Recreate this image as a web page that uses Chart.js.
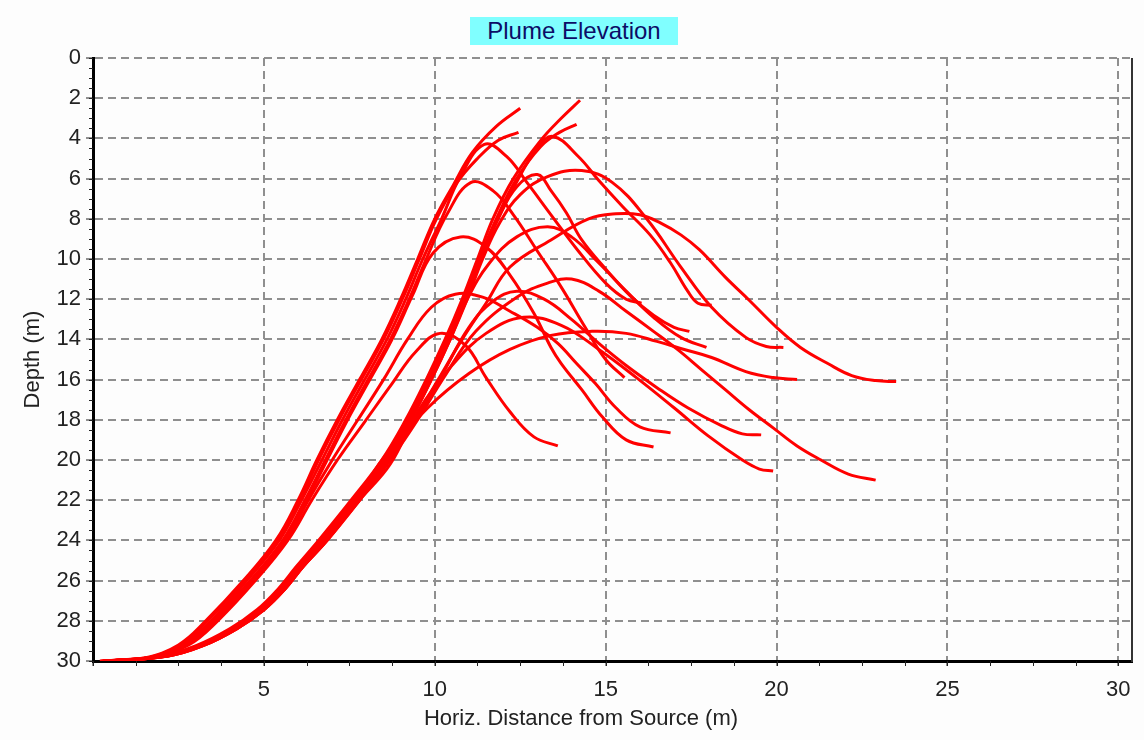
<!DOCTYPE html>
<html>
<head>
<meta charset="utf-8">
<script src="https://cdn.jsdelivr.net/npm/chart.js@4.4.0/dist/chart.umd.min.js"></script>
<style>
  html, body { margin: 0; padding: 0; background: #fdfdfd; }
  #wrap { position: relative; width: 1144px; height: 740px; }
  #plotTitle {
    position: absolute; left: 470px; top: 17px; width: 208px; height: 28px;
    background: #80ffff; color: #0c0c66; text-align: center; line-height: 28px;
    font: 24px "Liberation Sans", Arial, sans-serif;
  }
  #xTitle {
    position: absolute; left: 381px; width: 400px; top: 705px; text-align: center;
    color: #222; font: 22px "Liberation Sans", Arial, sans-serif;
  }
</style>
</head>
<body>
<div id="wrap">
  <canvas id="plume" width="1144" height="740"></canvas>
  <div id="plotTitle">Plume Elevation</div>
  <div id="xTitle">Horiz. Distance from Source (m)</div>
</div>
<script>
// axis ticks
const xTicks = [0, 5, 10, 15, 20, 25, 30];
const yTicks = [0, 2, 4, 6, 8, 10, 12, 14, 16, 18, 20, 22, 24, 26, 28, 30];

// left (steeper) family of trajectories: horizontal distance / depth
const distL1 = [0.2,1.5,2.5,3.3,4.4,5.35,6.0,6.55,7.15,7.8,8.45,9.0,9.5,10.0,10.55,11.1,11.8,12.5];
const depthL1 = [30,29.85,29.2,28.0,26.0,24.0,22.0,20.0,18.0,16.0,14.0,12.0,10.0,8.0,6.3,4.7,3.4,2.5];
const distL2 = [0.25,1.55,2.55,3.35,4.45,5.4,6.05,6.6,7.2,7.85,8.5,9.05,9.55,10.05,10.65,11.25,11.85,12.45];
const depthL2 = [30,29.85,29.2,28.0,26.0,24.0,22.0,20.0,18.0,16.0,14.0,12.0,10.0,8.0,6.2,5.0,4.1,3.7];
const distL3 = [0.3,1.6,2.6,3.45,4.5,5.45,6.1,6.7,7.3,7.95,8.6,9.15,9.65,10.2,10.75,11.45,12.1,12.7,13.4,14.2,15.0,15.6,16.05];
const depthL3 = [30,29.85,29.2,28.0,26.0,24.0,22.0,20.0,18.0,16.0,14.0,12.0,10.0,8.0,5.9,4.3,4.9,6.2,7.8,9.6,11.2,12.0,12.2];
const distL4 = [0.3,1.6,2.65,3.5,4.6,5.55,6.2,6.8,7.4,8.05,8.7,9.25,9.75,10.35,11.05,11.7,12.3,13.0,13.7,14.4,15.0,15.55];
const depthL4 = [30,29.85,29.2,28.0,26.0,24.0,22.0,20.0,18.0,16.0,14.0,12.0,10.0,7.8,6.2,6.6,7.8,9.6,11.4,13.4,15.0,15.9];
const distL5 = [0.3,1.65,2.7,3.55,4.65,5.6,6.25,6.85,7.45,8.1,8.75,9.35,9.95,10.75,11.5,12.2,12.9,13.4,13.7,14.3,14.9,15.6,16.4];
const depthL5 = [30,29.85,29.2,28.0,26.0,24.0,22.0,20.0,18.0,16.0,14.0,11.8,9.7,8.9,9.4,10.8,12.7,14.4,15.2,16.5,17.85,19.0,19.35];
const distL6 = [0.35,1.7,2.75,3.6,4.7,5.65,6.3,7.0,7.75,8.5,9.2,9.9,10.6,11.4,12.2,13.0,13.6,14.15,14.7,15.3,16.0,16.9];
const depthL6 = [30,29.85,29.2,28.0,26.0,24.0,22.0,20.0,18.0,16.0,14.0,12.4,11.75,11.9,12.6,13.4,14.2,15.2,16.2,17.4,18.35,18.65];
const distL7 = [0.35,1.7,2.8,3.65,4.75,5.7,6.4,7.15,7.95,8.75,9.45,10.15,10.9,11.5,12.2,12.9,13.6];
const depthL7 = [30,29.85,29.2,28.0,26.0,24.0,22.0,20.0,18.1,16.2,14.6,13.7,14.3,15.9,17.6,18.85,19.3];

// right (flatter) family
const distR1 = [0.4,2.0,3.0,4.0,4.8,5.4,5.95,6.6,7.55,8.45,9.15,9.75,10.3,10.8,11.25,11.7,12.3,13.1,13.7,14.25];
const depthR1 = [30,29.75,29.25,28.4,27.45,26.45,25.3,24.0,22.0,20.0,18.0,16.0,14.0,12.0,10.0,8.0,6.0,4.1,3.0,2.1];
const distR2 = [0.45,2.05,3.05,4.05,4.85,5.45,6.0,6.65,7.6,8.5,9.2,9.8,10.35,10.85,11.3,11.8,12.4,13.1,13.65,14.15];
const depthR2 = [30,29.75,29.25,28.4,27.45,26.45,25.3,24.0,22.0,20.0,18.0,16.0,14.0,12.0,10.0,8.0,6.0,4.4,3.7,3.3];
const distR3 = [0.5,2.1,3.1,4.1,4.9,5.5,6.05,6.7,7.65,8.55,9.25,9.85,10.4,10.9,11.35,11.85,12.45,12.95,13.45,14.2,14.8,15.5,16.3,16.9,17.4,17.7,18.1];
const depthR3 = [30,29.75,29.25,28.4,27.45,26.45,25.3,24.0,22.0,20.0,18.0,16.0,14.0,12.0,10.0,8.0,6.0,4.6,3.9,4.9,6.1,7.4,8.8,10.2,11.6,12.2,12.3];
const distR4 = [0.5,2.1,3.1,4.1,4.9,5.5,6.05,6.7,7.7,8.6,9.3,9.9,10.45,10.95,11.4,11.9,12.5,13.3,14.3,15.2,16.2,17.2,18.1,19.1,19.7,20.2];
const depthR4 = [30,29.75,29.25,28.4,27.45,26.45,25.3,24.0,22.0,20.0,18.0,16.0,14.0,12.0,10.0,8.2,6.8,5.9,5.6,6.2,8.0,10.4,12.4,13.9,14.35,14.4];
const distR5 = [0.55,2.15,3.15,4.15,4.95,5.55,6.1,6.75,7.75,8.65,9.4,10.1,10.8,11.5,12.2,13.4,14.5,15.3,16.0,16.6,17.2,17.75,18.5,19.2,20.0,20.7,21.5,22.2,22.9,23.5];
const depthR5 = [30,29.75,29.25,28.4,27.45,26.45,25.3,24.0,22.0,20.0,18.0,16.0,14.0,12.2,10.4,9.05,8.0,7.75,7.8,8.2,8.8,9.55,10.9,12.05,13.4,14.4,15.2,15.8,16.05,16.1];
const distR6 = [0.5,2.1,3.1,4.1,4.9,5.5,6.05,6.7,7.65,8.55,9.25,9.85,10.4,10.9,11.35,11.85,12.4,13.0,13.4,13.85,14.3,15.0,15.7,16.4,17.0,17.45];
const depthR6 = [30,29.75,29.25,28.4,27.45,26.45,25.3,24.0,22.0,20.0,18.0,16.0,14.0,12.0,10.0,8.0,6.4,5.8,6.6,7.7,9.05,10.5,11.8,12.8,13.4,13.6];
const distR7 = [0.55,2.15,3.15,4.15,4.95,5.55,6.1,6.8,7.75,8.65,9.45,10.2,11.0,11.7,12.4,13.2,14.0,14.8,15.6,16.5,17.4,18.4,19.0,19.55];
const depthR7 = [30,29.75,29.25,28.4,27.45,26.45,25.3,24.0,22.0,20.0,18.0,15.8,13.4,12.1,11.6,12.0,13.0,14.2,15.3,16.4,17.4,18.3,18.7,18.75];
const distR8 = [0.6,2.2,3.2,4.2,5.0,5.6,6.15,6.85,7.8,8.7,9.5,10.3,11.2,12.4,13.3,14.0,14.8,15.6,16.4,17.1,17.8,18.5,19.2,19.9,20.6,21.3,22.1,22.9];
const depthR8 = [30,29.75,29.25,28.4,27.45,26.45,25.3,24.0,22.0,20.0,18.0,15.8,13.6,11.9,11.2,11.0,11.6,12.6,13.6,14.5,15.5,16.5,17.5,18.4,19.3,20.0,20.7,21.0];
const distR9 = [0.6,2.2,3.2,4.2,5.0,5.6,6.15,6.85,7.8,8.7,9.5,10.5,11.5,12.6,13.7,14.8,15.9,17.0,18.0,19.0,19.5,19.9];
const depthR9 = [30,29.75,29.25,28.4,27.45,26.45,25.3,24.0,22.0,20.2,17.6,15.3,13.7,12.9,13.3,14.5,15.9,17.4,18.8,20.0,20.45,20.55];
const distR10 = [0.6,2.2,3.2,4.2,5.0,5.6,6.15,6.85,7.6,8.5,9.8,11.0,12.2,13.4,14.6,15.6,16.5,17.3,18.1,19.1,19.9,20.6];
const depthR10 = [30,29.75,29.25,28.4,27.45,26.45,25.3,24.0,22.3,19.9,17.4,15.7,14.5,13.8,13.6,13.7,14.1,14.5,14.9,15.6,15.9,16.0];
const distR11 = [0.55,2.15,3.15,4.15,4.95,5.55,6.1,6.75,7.7,8.6,9.3,9.9,10.45,10.95,11.6,12.4,13.3,14.0,14.8,15.6,16.4,17.2,17.95];
const depthR11 = [30,29.75,29.25,28.4,27.45,26.45,25.3,24.0,22.0,20.0,18.0,16.0,14.0,12.0,10.2,8.9,8.4,8.9,10.2,11.6,12.9,13.9,14.4];

const trajectories = [
  [distL1, depthL1], [distL2, depthL2], [distL3, depthL3], [distL4, depthL4],
  [distL5, depthL5], [distL6, depthL6], [distL7, depthL7],
  [distR1, depthR1], [distR2, depthR2], [distR3, depthR3], [distR4, depthR4],
  [distR5, depthR5], [distR6, depthR6], [distR7, depthR7], [distR8, depthR8],
  [distR9, depthR9], [distR10, depthR10], [distR11, depthR11]
];

const datasets = trajectories.map(([xs, ys]) => ({
  data: xs.map((x, i) => ({ x: x, y: ys[i] })),
  showLine: true,
  borderColor: "#ff0000",
  borderWidth: 3,
  pointRadius: 0,
  tension: 0.4,
  fill: false
}));

// small ticks and the right frame line
const frame = {
  id: "frame",
  afterDraw(chart) {
    const ctx = chart.ctx;
    const a = chart.chartArea;
    const xs = chart.scales.x, ys = chart.scales.y;
    ctx.save();
    ctx.strokeStyle = "#222";
    ctx.lineWidth = 1;
    ctx.beginPath();
    for (let v = 0; v <= 30.01; v += 1.25) {
      const px = Math.round(xs.getPixelForValue(v)) + 0.5;
      ctx.moveTo(px, a.bottom);
      ctx.lineTo(px, a.bottom + 5);
    }
    for (let v = 0; v <= 30.01; v += 0.5) {
      const py = Math.round(ys.getPixelForValue(v)) + 0.5;
      ctx.moveTo(a.left - 4, py);
      ctx.lineTo(a.left, py);
    }
    ctx.stroke();
    ctx.strokeStyle = "#333";
    ctx.lineWidth = 2;
    ctx.beginPath();
    ctx.moveTo(a.right, a.top);
    ctx.lineTo(a.right, a.bottom + 1);
    ctx.stroke();
    ctx.restore();
  }
};

const tickFont = { family: "'Liberation Sans', Arial, sans-serif", size: 22 };

new Chart(document.getElementById("plume"), {
  type: "scatter",
  data: { datasets: datasets },
  plugins: [frame],
  options: {
    responsive: false,
    animation: false,
    devicePixelRatio: 1,
    layout: { padding: { top: 58, right: 12, left: 0, bottom: 0 } },
    plugins: { legend: { display: false }, tooltip: { enabled: false } },
    scales: {
      x: {
        type: "linear",
        min: 0,
        max: 30.4,
        afterBuildTicks: (s) => { s.ticks = xTicks.map(v => ({ value: v })); },
        afterFit: (s) => { s.height = 79; },
        ticks: {
          color: "#222",
          font: tickFont,
          padding: 11,
          maxRotation: 0,
          callback: (v) => (v === 0 ? "" : v)
        },
        grid: {
          color: "#8f8f8f",
          lineWidth: 2,
          tickLength: 5,
          tickColor: "#222",
          tickWidth: 1,
          tickBorderDash: []
        },
        border: { color: "#000", width: 3, dash: [8, 5] }
      },
      y: {
        type: "linear",
        reverse: true,
        min: 0,
        max: 30,
        afterBuildTicks: (s) => { s.ticks = yTicks.map(v => ({ value: v })); },
        afterFit: (s) => { s.width = 93; },
        ticks: { color: "#222", font: tickFont, padding: 5 },
        grid: {
          color: "#8f8f8f",
          lineWidth: 2,
          tickLength: 7,
          tickColor: "#222",
          tickWidth: 1,
          tickBorderDash: []
        },
        border: { color: "#000", width: 3, dash: [8, 5] },
        title: {
          display: true,
          text: "Depth (m)",
          color: "#222",
          font: tickFont,
          padding: { top: 20, bottom: 0 }
        }
      }
    }
  }
});
</script>
</body>
</html>
